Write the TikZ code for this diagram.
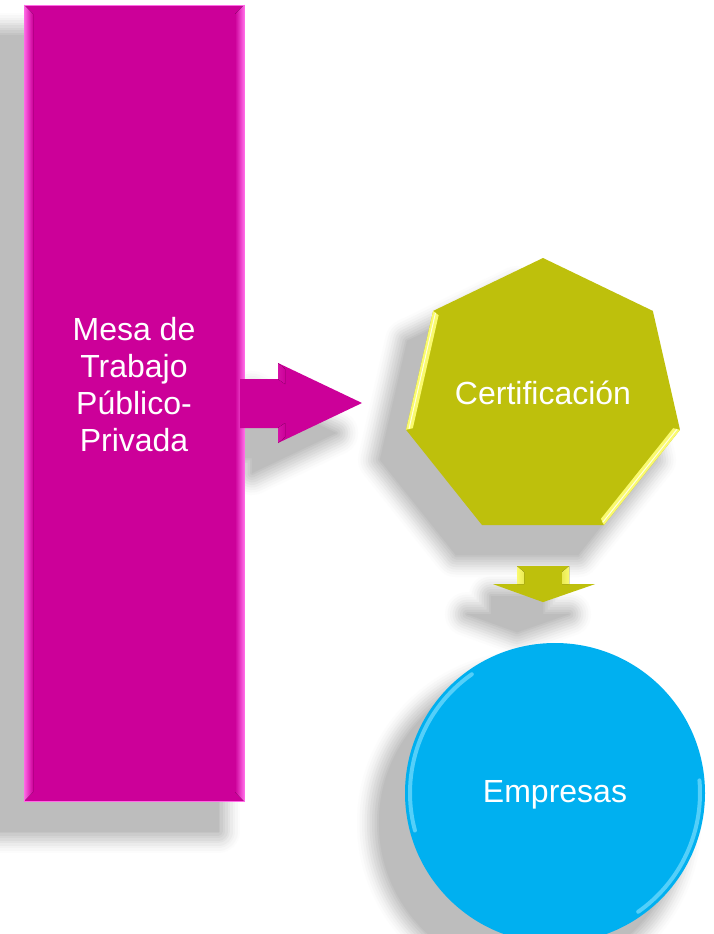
\documentclass[tikz,border=0pt]{standalone}
\usepackage{fontspec}
\setmainfont{Liberation Sans}
\usetikzlibrary{shapes.geometric,calc}
\definecolor{mag}{RGB}{204,0,153}
\definecolor{magL}{RGB}{255,105,230}
\definecolor{olv}{RGB}{190,192,12}
\definecolor{olvL}{RGB}{250,250,110}
\definecolor{cyn}{RGB}{0,176,240}
\definecolor{cynL}{RGB}{140,228,255}
\begin{document}
\begin{tikzpicture}[x=1pt,y=-1pt,
  lbl/.style={text=white,font=\fontsize{32}{37}\selectfont,align=center,inner sep=0pt},
  geom/.style={inner sep=0pt,outer sep=0pt},
  shadowshift/.style={transform canvas={shift={(-26,30)}}}]
\useasboundingbox (0,0) rectangle (713,934);
\fill[white] (0,0) rectangle (713,934);

% geometry of the main shapes
\path node[geom, rectangle, minimum width=220pt, minimum height=796pt] (mesa) at (134,403) {};
\path node[geom, regular polygon, regular polygon sides=7, minimum size=281pt] (cert) at (543,398.5) {};
\path node[geom, circle, minimum size=300pt] (emp) at (555,793) {};

\def\pRect{(mesa.north west) rectangle (mesa.south east)}
\def\pHept{(cert.corner 1) -- (cert.corner 2) -- (cert.corner 3) -- (cert.corner 4) -- (cert.corner 5) -- (cert.corner 6) -- (cert.corner 7) -- cycle}
\def\pCirc{(emp.center) circle[radius=150pt]}
\def\pArrR{(mesa.east) ++(-4,-24) -- ++(38,0) -- ++(0,-16) -- ++(84,40) -- ++(-84,40) -- ++(0,-15) -- ++(-38,0) -- cycle}
\def\pArrD{(cert.south) ++(-26,41) -- ++(52,0) -- ++(0,18) -- ++(26,0) -- ++(-52,18) -- ++(-50,-18) -- ++(24,0) -- cycle}

% soft shadows (layered, light to dark)
\foreach \w/\c in {44/1,39/3,34/5,29/8,24/11,19/14,14/17,9/20,4/23,0.1/26} {
  \begin{scope}[shadowshift]
    \path[fill=black!\c, draw=black!\c, line width=\w pt, line join=round] \pRect;
    \path[fill=black!\c, draw=black!\c, line width=\w pt, line join=round] \pHept;
    \path[fill=black!\c, draw=black!\c, line width=\w pt, line join=round] \pArrD;
    \path[fill=black!\c, draw=black!\c, line width=\w pt, line join=round] \pCirc;
  \end{scope}
  \begin{scope}
    \clip (mesa.north east) rectangle (713,934);
    \begin{scope}[shadowshift]
      \path[fill=black!\c, draw=black!\c, line width=\w pt, line join=round] \pArrR;
    \end{scope}
  \end{scope}
}

% rectangle
\fill[mag] \pRect;
\fill[left color=magL, right color=mag] (mesa.north west) -- ++(9,9) -- ($(mesa.south west)+(9,-9)$) -- (mesa.south west) -- cycle;
\fill[left color=mag, right color=magL] (mesa.north east) -- ++(-9,9) -- ($(mesa.south east)+(-9,-9)$) -- (mesa.south east) -- cycle;
\draw[magL, line width=0.8pt] \pRect;

% right arrow
\fill[mag] \pArrR;
\fill[left color=magL, right color=mag] (mesa.east) ++(34,-40) -- ++(7,6) -- ++(0,15) -- ++(-7,-5) -- cycle;
\fill[left color=magL, right color=mag] (mesa.east) ++(34,40) -- ++(7,-6) -- ++(0,-14) -- ++(-7,5) -- cycle;

% heptagon
\fill[olv] \pHept;
\fill[olvL] (cert.corner 2) -- (cert.corner 3) -- ($(cert.corner 3)!7pt!(cert.center)$) -- ($(cert.corner 2)!7pt!(cert.center)$) -- cycle;
\fill[olvL] (cert.corner 5) -- (cert.corner 6) -- ($(cert.corner 6)!7pt!(cert.center)$) -- ($(cert.corner 5)!7pt!(cert.center)$) -- cycle;
\draw[white, line width=1pt, opacity=0.8] ($(cert.corner 2)!3pt!(cert.center)$) -- ($(cert.corner 3)!3pt!(cert.center)$);
\draw[white, line width=1pt, opacity=0.8] ($(cert.corner 5)!3pt!(cert.center)$) -- ($(cert.corner 6)!3pt!(cert.center)$);

% down arrow
\fill[olv] \pArrD;
\fill[left color=olvL, right color=olv] (cert.south) ++(-26,41) -- ++(7,6) -- ++(0,12) -- ++(-7,0) -- cycle;
\fill[left color=olv, right color=olvL] (cert.south) ++(26,41) -- ++(-7,6) -- ++(0,12) -- ++(7,0) -- cycle;

% circle
\fill[cyn] \pCirc;
\begin{scope}[x=1pt,y=1pt]
  \draw[cynL, line width=4pt, line cap=round, opacity=0.6] ([shift={(195:145pt)}]emp.center) arc[start angle=195, end angle=125, radius=145pt];
  \draw[cynL, line width=4pt, line cap=round, opacity=0.6] ([shift={(-55:145pt)}]emp.center) arc[start angle=-55, end angle=5, radius=145pt];
\end{scope}

% labels
\node[lbl] (mesatext) at (134,385) {Mesa de\\Trabajo\\Público-\\Privada};
\node[lbl, anchor=base] (certtext) at (543,404) {Certificación};
\node[lbl, anchor=base] (emptext) at (555,802) {Empresas};
\end{tikzpicture}
\end{document}
